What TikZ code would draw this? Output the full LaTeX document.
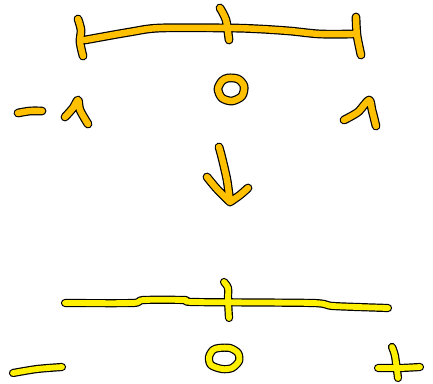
\documentclass[tikz,border=0pt]{standalone}
\definecolor{orangeC}{RGB}{255,192,0}
\definecolor{yellowC}{RGB}{255,240,0}
\tikzset{
  ostroke/.style={draw=orangeC, line width=6.4pt, line cap=round, line join=round,
    preaction={draw=black, line width=8.8pt, line cap=round, line join=round}},
  ystroke/.style={draw=yellowC, line width=5.8pt, line cap=round, line join=round,
    preaction={draw=black, line width=8.2pt, line cap=round, line join=round}}
}
\begin{document}
\begin{tikzpicture}[x=1pt,y=-1pt]
\useasboundingbox (0,0) rectangle (433,383);
% top interval
\draw[ostroke] plot[smooth] coordinates {(85,40) (130,32) (160,28) (230,28) (260,29) (290,31) (320,34) (355,34)}
  plot[smooth] coordinates {(78,19) (81,30) (80,42) (83,56)}
  plot[smooth] coordinates {(220,8) (226,20) (229,40)}
  plot[smooth] coordinates {(356,17) (357,35) (361,55)};
% -1
\draw[ostroke] plot[smooth] coordinates {(18,113) (30,111) (42,111)};
\draw[ostroke] plot[smooth] coordinates {(65,117) (73,108) (78,100) (80,110) (88,124)};
% 0
\draw[ostroke] plot[smooth cycle] coordinates {(228,78) (238,79) (244,86) (242,96) (232,101) (222,98) (218,89) (222,81)};
% 1
\draw[ostroke] plot[smooth] coordinates {(344,120) (358,112) (369,100) (372,110) (376,126)};
% arrow
\draw[ostroke] plot[smooth] coordinates {(219,147) (222,158) (227,180) (230,202)}
  plot[smooth] coordinates {(207,177) (217,189) (230,202)}
  plot[smooth] coordinates {(248,188) (240,195) (230,202)};
% bottom line
\draw[ystroke] plot[smooth, tension=0.4] coordinates {(65,303) (133,303) (143,300) (185,300) (193,302) (313,303) (333,306) (388,308)}
  plot[smooth] coordinates {(224,282) (228,288) (228,300) (229,318)};
% -
\draw[ystroke] plot[smooth] coordinates {(13,373) (37,369) (62,367)};
% 0
\draw[ystroke] plot[smooth cycle] coordinates {(219,348) (230,348) (238,353) (239,361) (232,368) (222,369) (211,365) (209,357) (213,350)};
% +
\draw[ystroke] plot[smooth] coordinates {(378,368) (400,368) (420,367)}
  plot[smooth] coordinates {(392,347) (395,356) (398,378)};
\end{tikzpicture}
\end{document}
